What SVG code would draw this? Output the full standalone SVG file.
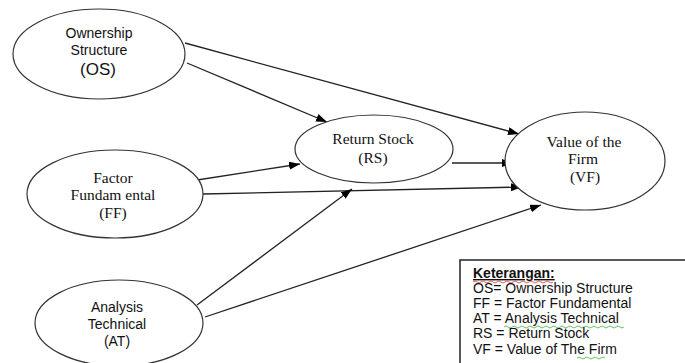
<svg xmlns="http://www.w3.org/2000/svg" width="685" height="363" viewBox="0 0 685 363">
<defs>
<marker id="arr" markerUnits="userSpaceOnUse" markerWidth="12" markerHeight="10" refX="11" refY="4" orient="auto">
<path d="M0,0 L11,4 L0,8 Z" fill="#000"/>
</marker>
<style>
.node{fill:#fff;stroke:#333;stroke-width:1.2}
.sans{font-family:"Liberation Sans",Arial,sans-serif;font-size:14px;fill:#111}
.leg{font-family:"Liberation Sans",Arial,sans-serif;font-size:14px;fill:#111}
.serif{font-family:"Liberation Serif","Times New Roman",serif;font-size:15.5px;fill:#111}
.edge{stroke:#222;stroke-width:1.3;fill:none;marker-end:url(#arr)}
</style>
</defs>
<rect width="685" height="363" fill="#fff"/>
<g id="connectors">
<line class="edge" x1="185" y1="43" x2="519" y2="134"/>
<line class="edge" x1="187" y1="63" x2="327" y2="122"/>
<line class="edge" x1="197" y1="180" x2="300" y2="164"/>
<line class="edge" x1="203" y1="194" x2="522" y2="187"/>
<line class="edge" x1="197" y1="305" x2="352" y2="189"/>
<line class="edge" x1="205" y1="317" x2="541" y2="205"/>
<line class="edge" x1="452" y1="163" x2="513" y2="163"/>
</g>
<g id="OS">
<ellipse class="node" cx="99" cy="54" rx="86" ry="45"/>
<text class="sans" x="99" y="38" text-anchor="middle">Ownership</text>
<text class="sans" x="99" y="55" text-anchor="middle">Structure</text>
<text class="sans" x="98" y="75" text-anchor="middle" style="font-size:17px">(OS)</text>
</g>
<g id="FF">
<ellipse class="node" cx="115" cy="194" rx="88" ry="44"/>
<text class="serif" x="113" y="183" text-anchor="middle">Factor</text>
<text class="serif" x="113" y="200" text-anchor="middle">Fundam ental</text>
<text class="serif" x="113" y="218" text-anchor="middle">(FF)</text>
</g>
<g id="AT">
<ellipse class="node" cx="119" cy="323" rx="84" ry="43"/>
<text class="sans" x="117" y="312" text-anchor="middle">Analysis</text>
<text class="sans" x="117" y="329" text-anchor="middle">Technical</text>
<text class="sans" x="117" y="346" text-anchor="middle">(AT)</text>
</g>
<g id="RS">
<ellipse class="node" cx="374" cy="149" rx="79" ry="34"/>
<text class="serif" x="373" y="144" text-anchor="middle">Return Stock</text>
<text class="serif" x="373" y="163" text-anchor="middle">(RS)</text>
</g>
<g id="VF">
<ellipse class="node" cx="585" cy="161" rx="80" ry="49"/>
<text class="serif" x="584" y="147" text-anchor="middle">Value of the</text>
<text class="serif" x="583" y="164" text-anchor="middle">Firm</text>
<text class="serif" x="585" y="182" text-anchor="middle">(VF)</text>
</g>
<g id="legend">
<rect x="460" y="260" width="240" height="120" fill="#fff" stroke="#222" stroke-width="1.5"/>
<text class="leg" x="473" y="278" style="font-weight:bold;text-decoration:underline">Keterangan:</text>
<path d="M473,282 q2,-2 4,0 t4,0 t4,0 t4,0 t4,0 t4,0 t4,0 t4,0 t4,0 t4,0 t4,0 t4,0 t4,0 t4,0 t4,0 t4,0 t4,0 t4,0 t4,0 t4,0" fill="none" stroke="#e03030" stroke-width="0.8"/>
<text class="leg" x="473" y="293">OS= Ownership Structure</text>
<text class="leg" x="473" y="308">FF = Factor Fundamental</text>
<text class="leg" x="473" y="323">AT = Analysis Technical</text>
<path d="M504,327 q2,-2 4,0 t4,0 t4,0 t4,0 t4,0 t4,0 t4,0 t4,0 t4,0 t4,0 t4,0 t4,0 t4,0 t4,0 t4,0 t4,0 t4,0 t4,0 t4,0 t4,0 t4,0 t4,0 t4,0 t4,0 t4,0 t4,0 t4,0 t4,0 t4,0 t4,0" fill="none" stroke="#40b040" stroke-width="0.8"/>
<text class="leg" x="473" y="338">RS = Return Stock</text>
<text class="leg" x="473" y="354">VF = Value of The Firm</text>
<path d="M577,358 q2,-2 4,0 t4,0 t4,0 t4,0 t4,0 t4,0 t4,0" fill="none" stroke="#40b040" stroke-width="0.8"/>
</g>
</svg>
